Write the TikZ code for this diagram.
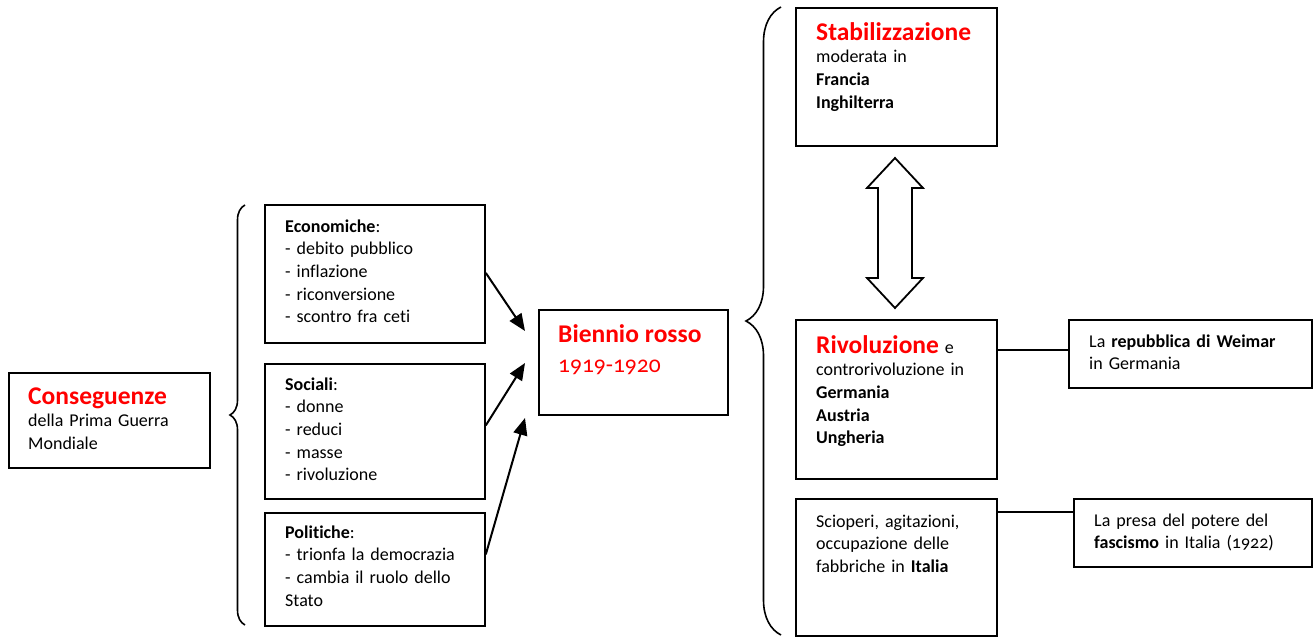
\documentclass[tikz,border=0pt]{standalone}
\usepackage{fontspec}
\setmainfont{Carlito}[Numbers=OldStyle, Ligatures=NoCommon, WordSpace=0.85]
\usetikzlibrary{arrows.meta,decorations.pathreplacing}
\begin{document}
\begin{tikzpicture}[x=1pt,y=-1pt,
  box/.style={draw, line width=1.8pt, inner sep=0pt, anchor=north west},
  txt/.style={anchor=base west, inner sep=0pt, align=left, text width=#1, font=\fontsize{18}{22.7}\selectfont},
  arr/.style={line width=2pt, -{Triangle[length=17pt,width=14pt]}},
  bracestyle/.style={decorate, decoration={brace, amplitude=#1}, line width=1.6pt},
  link/.style={line width=1.8pt}]
\newcommand{\redtitle}[1]{{\color{red}\bfseries\fontsize{25.5}{24}\selectfont #1}}
\useasboundingbox (0,0) rectangle (1315,637);

% boxes
\node[box, minimum width=201pt, minimum height=95pt] (cons) at (8,372) {};
\node[box, minimum width=220pt, minimum height=138pt] (econ) at (264,204) {};
\node[box, minimum width=220pt, minimum height=135pt] (soc) at (264,363) {};
\node[box, minimum width=220pt, minimum height=113pt] (pol) at (264,512) {};
\node[box, minimum width=189pt, minimum height=105pt] (bien) at (538,309) {};
\node[box, minimum width=201pt, minimum height=138pt] (stab) at (795,7) {};
\node[box, minimum width=201pt, minimum height=159pt] (rivol) at (795,319) {};
\node[box, minimum width=243pt, minimum height=68pt] (weim) at (1068,319) {};
\node[box, minimum width=201pt, minimum height=137pt] (sciop) at (795,498) {};
\node[box, minimum width=238pt, minimum height=68pt] (fasc) at (1073,498) {};

% texts
\node[txt=180pt] (consT) at (28,404) {\redtitle{Conseguenze}\\della Prima Guerra\\Mondiale};
\node[txt=195pt] (econT) at (285,232) {\textbf{Economiche}:\\- debito pubblico\\- inflazione\\- riconversione\\- scontro fra ceti};
\node[txt=195pt] (socT) at (285,390) {\textbf{Sociali}:\\- donne\\- reduci\\- masse\\- rivoluzione};
\node[txt=195pt] (polT) at (285,538) {\textbf{Politiche}:\\- trionfa la democrazia\\- cambia il ruolo dello\\Stato};
\node[txt=170pt] (bienT) at (558,342) {\redtitle{Biennio rosso}};
\node[txt=170pt, text=red, font=\fontsize{23.5}{24}\selectfont] (bienY) at (558,372) {1919-1920};
\node[txt=180pt] (stabT) at (816,40) {\redtitle{Stabilizzazione}\\moderata in\\\textbf{Francia}\\\textbf{Inghilterra}};
\node[txt=180pt] (rivolT) at (816,353) {\redtitle{Rivoluzione} e\\controrivoluzione in\\\textbf{Germania}\\\textbf{Austria}\\\textbf{Ungheria}};
\node[txt=215pt] (weimT) at (1089,347) {La \textbf{repubblica di Weimar}\\in Germania};
\node[txt=180pt] (sciopT) at (816,527) {Scioperi, agitazioni,\\occupazione delle\\fabbriche in \textbf{Italia}};
\node[txt=215pt] (fascT) at (1094,526) {La presa del potere del\\\textbf{fascismo} in Italia (1922)};

% braces
\coordinate (b1top) at (245,205);
\coordinate (b1bot) at (245,625);
\draw[bracestyle=15pt] (b1bot) -- (b1top);
\coordinate (b2top) at (781,7);
\coordinate (b2bot) at (781,635);
\draw[bracestyle=35pt] (b2bot) -- (b2top);

% arrows into Biennio rosso
\coordinate (t1) at (525,331);
\coordinate (t2) at (525,363);
\coordinate (t3) at (525,418);
\draw[arr] ([yshift=1pt]econ.east) -- (t1);
\draw[arr] ([yshift=6pt]soc.east) -- (t2);
\draw[arr] ([yshift=15pt]pol.east) -- (t3);

% double arrow
\draw[line width=1.8pt, line join=miter] (867,188) -- (895,158) -- (923,188) -- (912,188) -- (912,278) -- (923,278) -- (895,308) -- (867,278) -- (878,278) -- (878,188) -- cycle;

% links
\draw[link] ([yshift=4pt]weim.west) -- ([yshift=4pt]weim.west -| rivol.east);
\draw[link] ([yshift=-14pt]fasc.north west) -- ([yshift=-14pt]fasc.north west -| sciop.east);
\end{tikzpicture}
\end{document}
